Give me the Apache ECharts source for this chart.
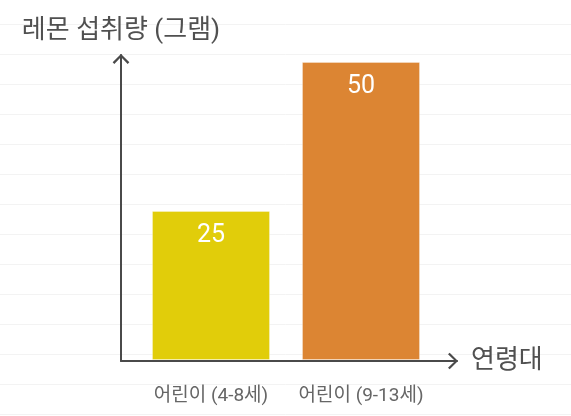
<!DOCTYPE html>
<html>
<head>
<meta charset="utf-8">
<script src="https://cdn.jsdelivr.net/npm/echarts@6/dist/echarts.min.js"></script>
<style>
html,body{margin:0;padding:0;background:#fff;}
#chart{width:571px;height:416px;}
</style>
</head>
<body>
<div id="chart"></div>
<script>
const categories = ['어린이 (4-8세)', '어린이 (9-13세)'];
const values = [25, 50];
const barColors = ['#E1CD0A', '#DC8533'];
const yTitle = '레몬 섭취량 (그램)';
const xTitle = '연령대';

const FONT = "Roboto, 'Noto Sans CJK KR', sans-serif";
const chevron = 'path://M0,10 L10,0 L20,10 L18,12 L10,3.5 L2,12 Z';

const chart = echarts.init(document.getElementById('chart'), null, {renderer: 'canvas'});
chart.setOption({
  animation: false,
  backgroundColor: '#ffffff',
  textStyle: {fontFamily: FONT},
  grid: [
    {left: 136, right: 135, top: 62, bottom: 56, containLabel: false},
    {left: 121, right: 114, top: 55, bottom: 55, containLabel: false},
    {left: 0, right: 0, top: 24, bottom: 2, containLabel: false}
  ],
  xAxis: [
    {
      gridIndex: 0, type: 'category', data: categories,
      axisLine: {show: false}, axisTick: {show: false},
      axisLabel: {color: '#666', fontSize: 19, margin: 27, fontFamily: FONT, interval: 0, hideOverlap: false},
      splitLine: {show: false}
    },
    {
      gridIndex: 1, type: 'value', min: 0, max: 1,
      axisLine: {show: true, symbol: ['none', chevron], symbolSize: [18, 10], symbolOffset: [0, -4],
        lineStyle: {color: '#4a4a4a', width: 2}},
      axisTick: {show: false}, axisLabel: {show: false}, splitLine: {show: false},
      name: xTitle, nameLocation: 'end', nameGap: 14,
      nameTextStyle: {color: '#505050', fontSize: 26, fontFamily: FONT}
    },
    {
      gridIndex: 2, type: 'value', min: 0, max: 1, show: false
    }
  ],
  yAxis: [
    {
      gridIndex: 0, type: 'value', min: 0, max: 50, show: false
    },
    {
      gridIndex: 1, type: 'value', min: 0, max: 1,
      axisLine: {show: true, symbol: ['none', chevron], symbolSize: [18, 10], symbolOffset: [0, -4],
        lineStyle: {color: '#4a4a4a', width: 2}},
      axisTick: {show: false}, axisLabel: {show: false}, splitLine: {show: false},
      name: yTitle, nameLocation: 'end', nameGap: 10,
      nameTextStyle: {color: '#505050', fontSize: 26, fontFamily: FONT, align: 'center'}
    },
    {
      gridIndex: 2, type: 'value', min: 0, max: 13, interval: 1,
      axisLine: {show: false}, axisTick: {show: false}, axisLabel: {show: false},
      splitLine: {show: true, lineStyle: {color: '#f3f3f3', width: 1}}
    }
  ],
  series: [{
    type: 'bar',
    xAxisIndex: 0, yAxisIndex: 0,
    barWidth: 118,
    data: values.map((v, i) => ({value: v, itemStyle: {color: barColors[i]}})),
    itemStyle: {borderColor: 'rgba(255,255,255,0.3)', borderWidth: 1},
    label: {show: true, position: 'insideTop', distance: 12, color: '#fff', fontSize: 25, fontFamily: FONT}
  }]
});
</script>
</body>
</html>
